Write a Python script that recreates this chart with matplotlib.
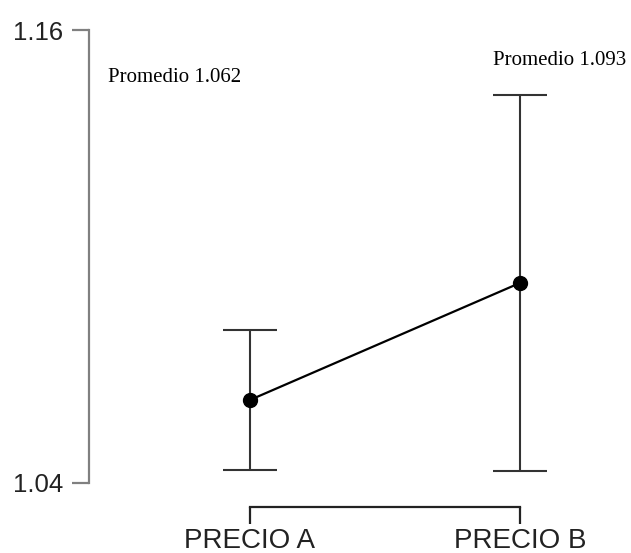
import matplotlib
matplotlib.use("Agg")
import matplotlib.pyplot as plt

# Data
categories = ["PRECIO A", "PRECIO B"]
means = [1.062, 1.093]
errors = [0.0185, 0.0497]
y_ticks = [1.04, 1.16]
y_tick_labels = ["1.04", "1.16"]

W, H, DPI = 631, 553, 100
fig = plt.figure(figsize=(W / DPI, H / DPI), dpi=DPI)

# axes box in pixels: left spine at x=89, y range 30..483
left_px, right_px, top_px, bottom_px = 89, 600, 30, 483
ax = fig.add_axes([left_px / W, (H - bottom_px) / H,
                   (right_px - left_px) / W, (bottom_px - top_px) / H])

x = list(range(len(categories)))
px_per_unit = 270.0
x0_px = 250.0
ax.set_xlim((left_px - x0_px) / px_per_unit, (right_px - x0_px) / px_per_unit)
ax.set_ylim(y_ticks[0], y_ticks[-1])

# error bars
ax.errorbar(x, means, yerr=errors, fmt="none", ecolor="#333333",
            elinewidth=1.5, capsize=19.5, capthick=1.5, zorder=2)
# mean line and points
ax.plot(x, means, color="black", linewidth=1.6, marker="o",
        markersize=10, markerfacecolor="black", markeredgecolor="black",
        zorder=3)

# spines
for s in ("top", "right"):
    ax.spines[s].set_visible(False)
ax.spines["left"].set_color("#808080")
ax.spines["left"].set_linewidth(1.6)
ax.spines["left"].set_bounds(y_ticks[0], y_ticks[-1])
ax.spines["bottom"].set_position(("outward", 17))
ax.spines["bottom"].set_bounds(x[0], x[-1])
ax.spines["bottom"].set_color("#222222")
ax.spines["bottom"].set_linewidth(1.6)

ax.set_yticks(y_ticks)
ax.set_yticklabels(y_tick_labels)
ax.set_xticks(x)
ax.set_xticklabels(categories)

ax.tick_params(axis="y", direction="out", length=12.5, width=1.6,
               color="#808080", pad=6, labelsize=18.5, labelcolor="#222222")
ax.tick_params(axis="x", direction="out", length=12, width=1.6,
               color="#222222", pad=3.3, labelsize=20, labelcolor="#222222")
for lab in ax.get_xticklabels() + ax.get_yticklabels():
    lab.set_family("Liberation Sans")

# mean annotations
label_pos_px = [(108, 82), (493, 65)]
for (lx, ly), m in zip(label_pos_px, means):
    fig.text(lx / W, (H - ly) / H, f"Promedio {m:.3f}",
             family="Liberation Serif", fontsize=15, color="black",
             ha="left", va="baseline")

fig.savefig("out.png", dpi=DPI)
